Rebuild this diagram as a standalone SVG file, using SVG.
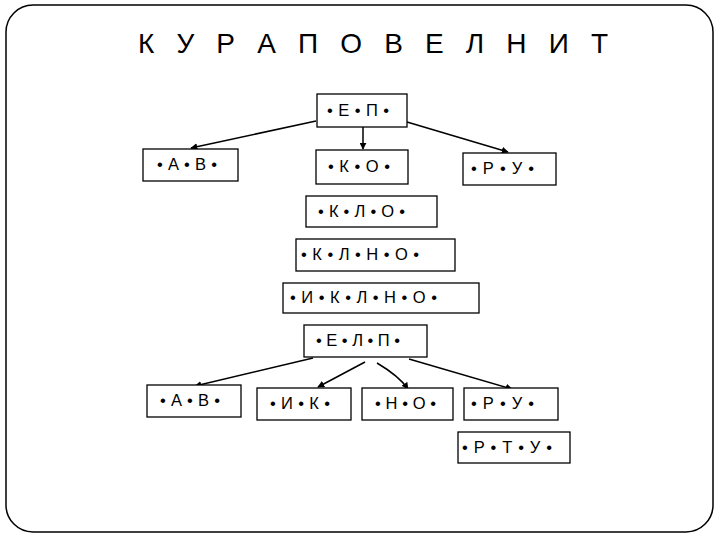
<svg xmlns="http://www.w3.org/2000/svg" width="720" height="540" viewBox="0 0 720 540">
<style>
.box{fill:#fff;stroke:#000;stroke-width:1.3}
.t{font-family:"Liberation Sans",Arial,sans-serif;font-size:16.5px;fill:#000}
.title{font-family:"Liberation Sans",Arial,sans-serif;font-size:28px;fill:#000}
.c{fill:none;stroke:#000;stroke-width:1.5;marker-end:url(#ah)}
</style>
<defs>
<marker id="ah" viewBox="0 0 10 10" refX="9" refY="5" markerWidth="7" markerHeight="7" markerUnits="userSpaceOnUse" orient="auto">
<path d="M0,0 L10,5 L0,10 z" fill="#000"/>
</marker>
</defs>
<rect x="0" y="0" width="720" height="540" fill="#fff"/>
<rect x="6" y="5" width="707" height="527" rx="27" ry="27" fill="none" stroke="#000" stroke-width="1.5"/>
<text class="title" x="138" y="53" textLength="470" lengthAdjust="spacing">К У Р А П О В Е Л Н И Т</text>
<g id="connectors">
<path class="c" d="M316,121 L191,148"/>
<path class="c" d="M363,127 L363,149"/>
<path class="c" d="M407,122 L508,152"/>
<path class="c" d="M313,358 L195,386"/>
<path class="c" d="M365,362 L318,387"/>
<path class="c" d="M377,363 Q399,376 408,389"/>
<path class="c" d="M409,359 L512,389"/>
</g>
<g id="n-ep"><rect class="box" x="317" y="94" width="90" height="33"/><text class="t" x="327" y="116" textLength="62" lengthAdjust="spacing">• Е • П •</text></g>
<g id="n-av1"><rect class="box" x="143" y="149" width="95" height="32"/><text class="t" x="157" y="170" textLength="60" lengthAdjust="spacing">• А • В •</text></g>
<g id="n-ko"><rect class="box" x="316" y="150" width="92" height="34"/><text class="t" x="328" y="172" textLength="62" lengthAdjust="spacing">• К • О •</text></g>
<g id="n-ru1"><rect class="box" x="463" y="153" width="93" height="32"/><text class="t" x="471" y="174" textLength="63" lengthAdjust="spacing">• Р • У •</text></g>
<g id="n-klo"><rect class="box" x="306" y="196" width="131" height="31"/><text class="t" x="318" y="217" textLength="87" lengthAdjust="spacing">• К • Л • О •</text></g>
<g id="n-klno"><rect class="box" x="296" y="239" width="159" height="32"/><text class="t" x="301" y="260" textLength="118" lengthAdjust="spacing">• К • Л • Н • О •</text></g>
<g id="n-iklno"><rect class="box" x="283" y="283" width="196" height="30"/><text class="t" x="290" y="303" textLength="147" lengthAdjust="spacing">• И • К • Л • Н • О •</text></g>
<g id="n-elp"><rect class="box" x="304" y="325" width="123" height="32"/><text class="t" x="316" y="346" textLength="84" lengthAdjust="spacing">• Е • Л • П •</text></g>
<g id="n-av2"><rect class="box" x="147" y="385" width="94" height="32"/><text class="t" x="160" y="406" textLength="60" lengthAdjust="spacing">• А • В •</text></g>
<g id="n-ik"><rect class="box" x="257" y="388" width="94" height="32"/><text class="t" x="270" y="409" textLength="60" lengthAdjust="spacing">• И • К •</text></g>
<g id="n-no"><rect class="box" x="362" y="388" width="91" height="32"/><text class="t" x="375" y="409" textLength="61" lengthAdjust="spacing">• Н • О •</text></g>
<g id="n-ru2"><rect class="box" x="464" y="388" width="94" height="32"/><text class="t" x="471" y="409" textLength="63" lengthAdjust="spacing">• Р • У •</text></g>
<g id="n-rtu"><rect class="box" x="458" y="432" width="112" height="31"/><text class="t" x="462" y="453" textLength="90" lengthAdjust="spacing">• Р • Т • У •</text></g>
</svg>
